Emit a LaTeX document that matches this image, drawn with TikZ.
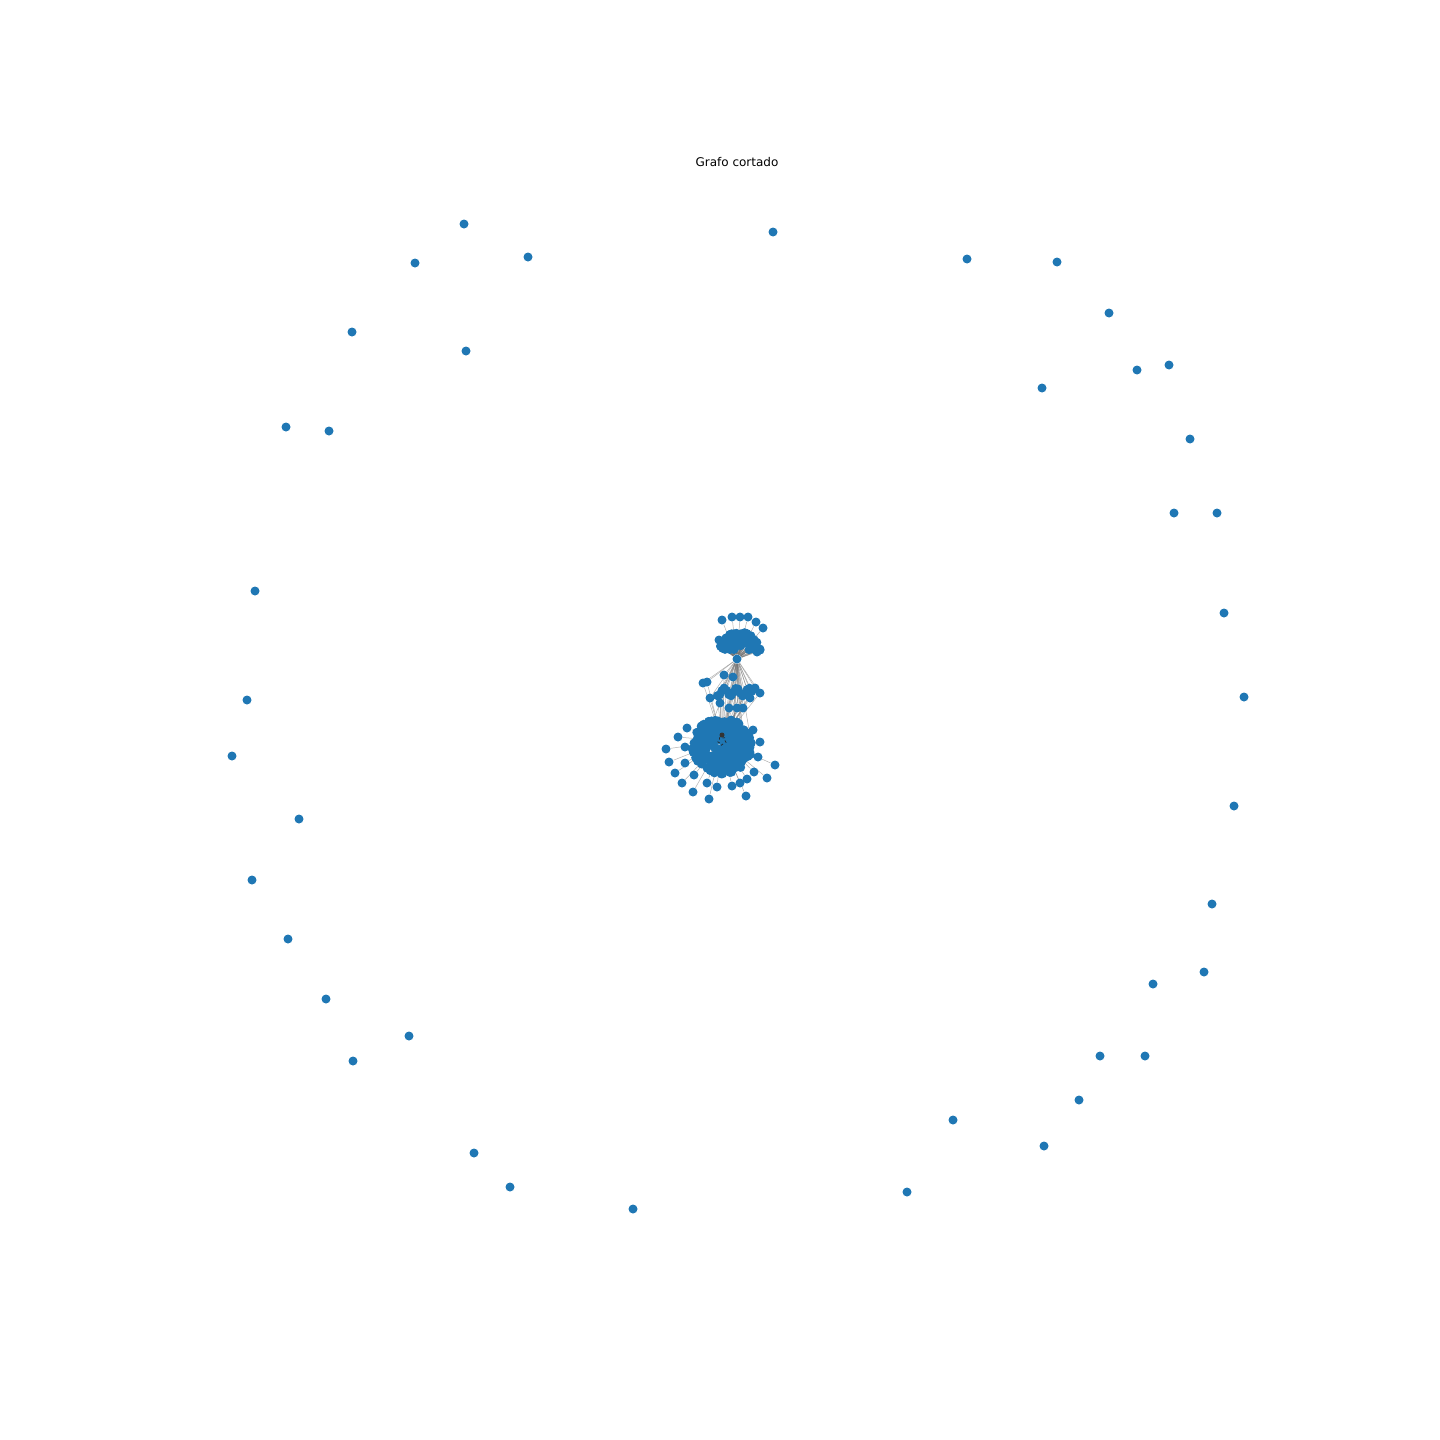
\documentclass[tikz,border=0pt]{standalone}
\usepackage{fontspec}
\setmainfont{DejaVu Sans}
\usetikzlibrary{backgrounds}
\definecolor{tabblue}{RGB}{31,119,180}
\tikzset{
  dot/.style={circle,fill=tabblue,inner sep=0pt,minimum size=4.5pt,draw=none},
  edge/.style={draw=black!55,opacity=0.55,line width=0.25pt},
  darkedge/.style={draw=black!85,line width=0.35pt}
}
\begin{document}
\begin{tikzpicture}[x=0.5pt,y=-0.5pt]
\useasboundingbox (0,0) rectangle (1440,1440);
\node[font=\fontsize{6}{7}\selectfont] (title) at (737,162) {Grafo cortado};
% isolated nodes
\foreach \px/\py [count=\k] in {464/224,528/257,415/263,773/232,967/259,1057/262,1109/313,352/332,466/351,1137/370,1169/365,1042/388,286/427,329/431,1190/439,1174/513,1217/513,255/591,1224/613,247/700,1244/697,232/756,299/819,1234/806,252/880,1212/904,288/939,1204/972,1153/984,326/999,409/1036,1100/1056,1145/1056,353/1061,1079/1100,953/1120,1044/1146,474/1153,510/1187,907/1192,633/1209}
  \node[dot] (iso\k) at (\px,\py) {};
% hubs
\node[dot] (hubT) at (737,659) {};
% top cluster
\foreach \px/\py [count=\k] in {722/620,732/617,740/617,748/617,756/622,763/628,719/640,760/650,757/652}
  \node[dot] (ta\k) at (\px,\py) {};
\pgfmathsetseed{42}
\foreach \k in {1,...,90}{
  \pgfmathsetmacro\ang{180+rnd*180}
  \pgfmathsetmacro\rr{rnd^0.35}
  \pgfmathsetmacro\px{740+20*\rr*cos(\ang)}
  \pgfmathsetmacro\py{650+18*\rr*sin(\ang)}
  \node[dot] (tb\k) at (\px,\py) {};
}
% middle cluster
\foreach \px/\py [count=\k] in {724/675,733/677,703/683,707/682,755/688,760/693,710/698,720/703,729/708,737/708,743/708,750/698}
  \node[dot] (ma\k) at (\px,\py) {};
\foreach \k in {1,...,16}{
  \pgfmathsetmacro\px{715+\k*2.3}
  \pgfmathsetmacro\py{692+4*sin(\k*67)}
  \node[dot] (mb\k) at (\px,\py) {};
}
% lower ring
\foreach \px/\py [count=\k] in {687/728,678/737,666/749,685/747,669/762,685/763,675/773,694/775,682/783,693/792,707/783,709/799,717/787,732/786,740/783,747/779,746/796,754/772,767/778,758/757,775/765,760/742,753/730}
  \node[dot] (ra\k) at (\px,\py) {};
% lower blob
\foreach \k in {1,...,320}{
  \pgfmathsetmacro\ang{rnd*360}
  \pgfmathsetmacro\rr{rnd^0.4}
  \pgfmathsetmacro\px{722+30*\rr*cos(\ang)}
  \pgfmathsetmacro\py{746+28*\rr*sin(\ang)}
  \node[dot] (lb\k) at (\px,\py) {};
}
\node[dot] (hubL) at (722,741) {};
\begin{pgfonlayer}{background}
  \foreach \k in {1,...,9} \draw[edge] (hubT) -- (ta\k);
  \foreach \k in {1,...,90} \draw[edge] (hubT) -- (tb\k);
  \foreach \k in {1,...,12} \draw[edge] (hubT) -- (ma\k);
  \foreach \k in {1,...,16} \draw[edge] (hubT) -- (mb\k);
  \foreach \k in {1,...,12} \draw[edge] (ma\k) -- (hubL);
  \foreach \k in {1,2,...,16} \draw[edge] (mb\k) -- (hubL);
  \foreach \k in {1,...,10} \draw[edge] (hubT) -- (lb\k);
  \foreach \k in {1,...,23} \draw[edge] (hubL) -- (ra\k);
\end{pgfonlayer}
\foreach \k in {1,...,5} \draw[darkedge] (hubL) ++(\k*70:3) -- ++(\k*70+70:2.5);
\fill[black!80] (722,735) circle[radius=2.5];
\end{tikzpicture}
\end{document}
